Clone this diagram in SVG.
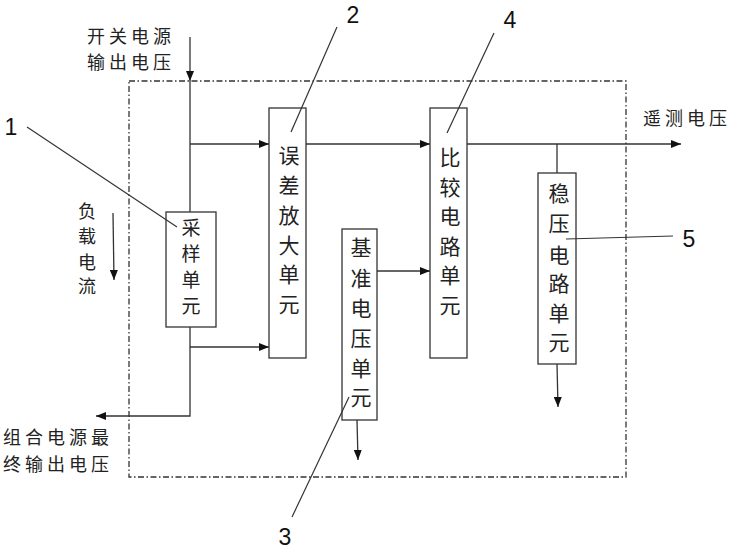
<svg xmlns="http://www.w3.org/2000/svg" width="732" height="549" viewBox="0 0 732 549">
<defs>
<marker id="ah" viewBox="0 0 10 8" refX="10" refY="4" markerWidth="10" markerHeight="8" markerUnits="userSpaceOnUse" orient="auto">
<path d="M0,0 L10,4 L0,8 Z" fill="#111"/>
</marker>
<style>
.ln{stroke:#333;stroke-width:1.3;fill:none}
.ar{stroke:#333;stroke-width:1.3;fill:none;marker-end:url(#ah)}
.ld{stroke:#333;stroke-width:1.2;fill:none}
.bx{fill:#fff;stroke:#333;stroke-width:1.3}
.frame{fill:none;stroke:#333;stroke-width:1.3;stroke-dasharray:6 2.5 1.5 2.5}
.t{font-family:"Noto Sans CJK SC","Liberation Sans",sans-serif;font-size:21px;fill:#222;text-anchor:middle}
.o{font-family:"Noto Sans CJK SC","Liberation Sans",sans-serif;font-size:18px;fill:#222;letter-spacing:4px}
.n{font-family:"Liberation Sans",Arial,sans-serif;font-size:23px;fill:#111;text-anchor:middle}
</style>
</defs>
<rect width="732" height="549" fill="#fff"/>
<rect class="frame" x="129" y="81" width="497" height="396"/>
<g id="connectors">
<line class="ar" x1="190" y1="37" x2="190" y2="81"/>
<polyline class="ar" points="190,81 190,416 96,416"/>
<polyline class="ar" points="190,144 269,144"/>
<polyline class="ar" points="190,347 269,347"/>
<line class="ar" x1="306" y1="144" x2="430" y2="144"/>
<line class="ar" x1="377" y1="271" x2="430" y2="271"/>
<line class="ar" x1="357" y1="420" x2="358" y2="460"/>
<line class="ar" x1="467" y1="144" x2="681" y2="144"/>
<line class="ln" x1="557" y1="144" x2="557" y2="173"/>
<line class="ar" x1="557" y1="364" x2="558" y2="407"/>
<line class="ar" x1="113" y1="213" x2="114" y2="280"/>
</g>
<g id="sampling">
<rect class="bx" x="166" y="212" width="50" height="115"/>
<text class="t" style="font-size:19px"><tspan x="191" y="235">采</tspan><tspan x="191" y="261">样</tspan><tspan x="191" y="287">单</tspan><tspan x="191" y="313">元</tspan></text>
</g>
<g id="error-amp">
<rect class="bx" x="269" y="108" width="37" height="250"/>
<text class="t"><tspan x="289" y="163">误</tspan><tspan x="289" y="193">差</tspan><tspan x="289" y="223">放</tspan><tspan x="289" y="253">大</tspan><tspan x="289" y="282">单</tspan><tspan x="289" y="312">元</tspan></text>
</g>
<g id="reference">
<rect class="bx" x="342" y="229" width="35" height="191"/>
<text class="t"><tspan x="361" y="255">基</tspan><tspan x="361" y="286">准</tspan><tspan x="361" y="316">电</tspan><tspan x="361" y="346">压</tspan><tspan x="361" y="376">单</tspan><tspan x="361" y="405">元</tspan></text>
</g>
<g id="comparator">
<rect class="bx" x="430" y="108" width="37" height="250"/>
<text class="t"><tspan x="450" y="165">比</tspan><tspan x="450" y="194.5">较</tspan><tspan x="450" y="224">电</tspan><tspan x="450" y="253.5">路</tspan><tspan x="450" y="283">单</tspan><tspan x="450" y="312.5">元</tspan></text>
</g>
<g id="regulator">
<rect class="bx" x="538" y="173" width="38" height="191"/>
<text class="t"><tspan x="559" y="201">稳</tspan><tspan x="559" y="231">压</tspan><tspan x="559" y="263">电</tspan><tspan x="559" y="291">路</tspan><tspan x="559" y="321">单</tspan><tspan x="559" y="350">元</tspan></text>
</g>
<g id="labels">
<text class="o" x="87" y="43">开关电源</text>
<text class="o" x="87" y="69">输出电压</text>
<text class="o" x="643" y="125">遥测电压</text>
<text class="o" x="3" y="444">组合电源最</text>
<text class="o" x="3" y="471">终输出电压</text>
<text class="o" style="text-anchor:middle;letter-spacing:0" ><tspan x="87" y="218">负</tspan><tspan x="87" y="243">载</tspan><tspan x="87" y="269">电</tspan><tspan x="87" y="293">流</tspan></text>
</g>
<g id="callouts">
<line class="ld" x1="27" y1="127" x2="177" y2="227"/>
<text class="n" x="11" y="135">1</text>
<line class="ld" x1="337" y1="27" x2="291" y2="132"/>
<text class="n" x="353" y="23">2</text>
<line class="ld" x1="292" y1="517" x2="349" y2="397"/>
<text class="n" x="285" y="545">3</text>
<line class="ld" x1="494" y1="33" x2="447" y2="133"/>
<text class="n" x="510" y="28">4</text>
<line class="ld" x1="673" y1="236" x2="566" y2="239"/>
<text class="n" x="689" y="247">5</text>
</g>
</svg>
